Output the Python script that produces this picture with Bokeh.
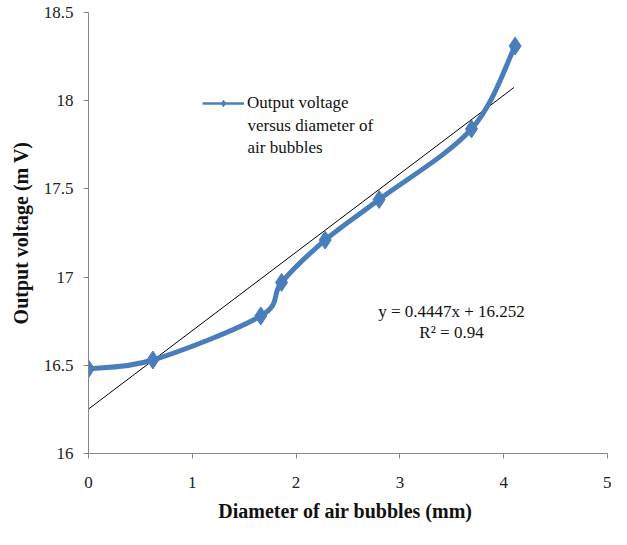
import numpy as np
from bokeh.plotting import figure
from bokeh.models import Range1d, FixedTicker, Legend, LegendItem, Label
from bokeh.embed import file_html
from bokeh.resources import INLINE

# data
diameter_mm = [0.0, 0.62, 1.66, 1.86, 2.28, 2.80, 3.69, 4.11]
voltage_mV = [16.48, 16.53, 16.78, 16.97, 17.21, 17.44, 17.84, 18.31]
trend_slope = 0.4447
trend_intercept = 16.252
trend_x = [0.0, 4.1]
x_ticks = [0, 1, 2, 3, 4, 5]
y_ticks = [16, 16.5, 17, 17.5, 18, 18.5]
series_label_lines = ["Output voltage", "versus diameter of", "air bubbles"]
eq_label = "y = 0.4447x + 16.252"
r2_label = "R² = 0.94"

BLUE = "#4a7ebb"
AXIS = "#868686"
FONT = "Liberation Serif"
TXT = "#111111"

p = figure(width=611, height=529, output_backend="svg", toolbar_location=None,
           x_range=Range1d(0, 5), y_range=Range1d(16, 18.5),
           min_border_left=88, min_border_right=4, min_border_top=12, min_border_bottom=76)
p.outline_line_color = None
p.xgrid.visible = False
p.ygrid.visible = False

for ax in (p.xaxis, p.yaxis):
    ax.axis_line_color = AXIS
    ax.major_tick_line_color = AXIS
    ax.minor_tick_line_color = None
    ax.major_tick_in = 0
    ax.major_tick_out = 5
    ax.major_label_text_font = FONT
    ax.major_label_text_font_size = "17px"
    ax.major_label_text_color = "#222222"
    ax.axis_label_text_font = FONT
    ax.axis_label_text_font_size = "20px"
    ax.axis_label_text_font_style = "bold"
    ax.axis_label_text_color = TXT

p.xaxis.ticker = FixedTicker(ticks=x_ticks)
p.yaxis.ticker = FixedTicker(ticks=y_ticks)
p.xaxis.major_label_standoff = 18
p.yaxis.major_label_standoff = 10
p.xaxis.axis_label = "Diameter of air bubbles  (mm)"
p.yaxis.axis_label = "Output voltage (m V)"
p.xaxis.axis_label_standoff = 9
p.yaxis.axis_label_standoff = 9

# trendline
tx = np.array(trend_x)
p.line(tx, trend_slope * tx + trend_intercept, line_color="black", line_width=1)

# smoothed series (Catmull-Rom as cubic bezier)
x = np.array(diameter_mm)
y = np.array(voltage_mV)
xp = np.concatenate([[x[0]], x, [x[-1]]])
yp = np.concatenate([[y[0]], y, [y[-1]]])
n = len(x)
x0 = x[:-1]; y0 = y[:-1]; x1 = x[1:]; y1 = y[1:]
cx0 = x0 + (xp[2:n + 1] - xp[0:n - 1]) / 6
cy0 = y0 + (yp[2:n + 1] - yp[0:n - 1]) / 6
cx1 = x1 - (xp[3:n + 2] - xp[1:n]) / 6
cy1 = y1 - (yp[3:n + 2] - yp[1:n]) / 6
p.bezier(x0=x0, y0=y0, x1=x1, y1=y1, cx0=cx0, cy0=cy0, cx1=cx1, cy1=cy1,
         line_color=BLUE, line_width=5, line_cap="round")
p.scatter(x, y, marker="diamond", size=18, fill_color=BLUE, line_color=BLUE)

# legend-only proxy renderers (nothing drawn on the plot)
lg_line = p.line([np.nan], [np.nan], line_color=BLUE, line_width=2.5)
lg_mark = p.scatter([np.nan], [np.nan], marker="diamond", size=11,
                    fill_color=BLUE, line_color=BLUE)

legend = Legend(items=[LegendItem(label=series_label_lines[0], renderers=[lg_line, lg_mark])],
                location=(114, 340), padding=0, margin=0, border_line_color=None,
                background_fill_alpha=0, glyph_width=42, glyph_height=16,
                label_standoff=3, label_text_font=FONT, label_text_font_size="17px",
                label_text_color=TXT, label_height=18)
p.add_layout(legend)

for i, yy in ((1, 328), (2, 306)):
    p.add_layout(Label(x=159, y=yy, x_units="screen", y_units="screen",
                       text=series_label_lines[i], text_font=FONT, text_font_size="17px",
                       text_baseline="middle", text_color=TXT))

p.add_layout(Label(x=363, y=142, x_units="screen", y_units="screen", text=eq_label,
                   text_font=FONT, text_font_size="17px", text_align="center",
                   text_baseline="middle", text_color=TXT))
p.add_layout(Label(x=363, y=121, x_units="screen", y_units="screen", text=r2_label,
                   text_font=FONT, text_font_size="17px", text_align="center",
                   text_baseline="middle", text_color=TXT))

open("out.html", "w").write(file_html(p, INLINE))
